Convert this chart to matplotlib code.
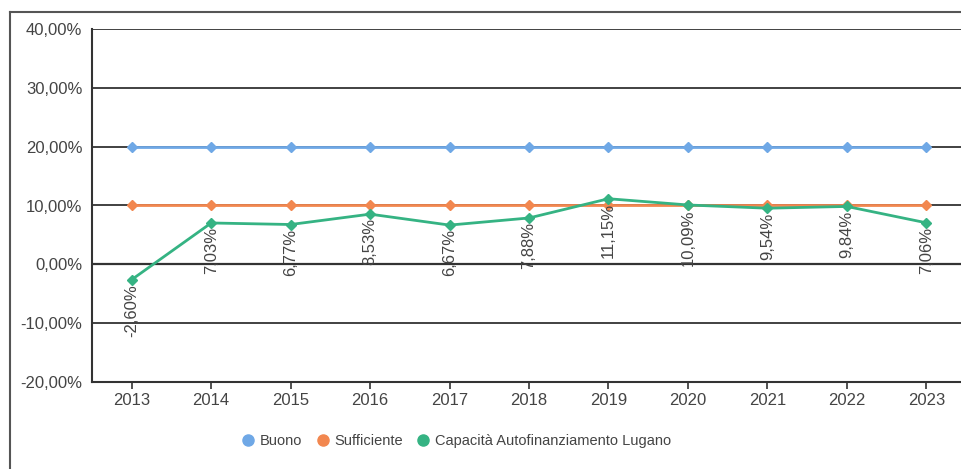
import matplotlib.pyplot as plt
from matplotlib.lines import Line2D

plt.rcParams['font.family'] = ['Liberation Sans', 'DejaVu Sans']

anni = ['2013', '2014', '2015', '2016', '2017', '2018', '2019', '2020', '2021', '2022', '2023']
buono = [20, 20, 20, 20, 20, 20, 20, 20, 20, 20, 20]
sufficiente = [10, 10, 10, 10, 10, 10, 10, 10, 10, 10, 10]
capacita = [-2.60, 7.03, 6.77, 8.53, 6.67, 7.88, 11.15, 10.09, 9.54, 9.84, 7.06]
y_ticks = [-20, -10, 0, 10, 20, 30, 40]

col_buono = '#6fa8e6'
col_suff = '#f2874f'
col_cap = '#35b383'
txt_col = '#444444'

fig = plt.figure(figsize=(9.62, 4.69), dpi=100)
W, H = 962, 469
ax = fig.add_axes([92 / W, 1 - 382 / H, (966 - 92) / W, (382 - 29) / H])

x = list(range(len(anni)))

for yv in y_ticks:
    ax.axhline(yv, color='#333333', lw=1.3 if yv != 0 else 1.6, zorder=1)

ax.plot(x, buono, color=col_buono, lw=2, marker='D', ms=5.5, zorder=3, clip_on=False)
ax.plot(x, sufficiente, color=col_suff, lw=2, marker='D', ms=5.5, zorder=3, clip_on=False)
ax.plot(x, capacita, color=col_cap, lw=2, marker='D', ms=5.5, zorder=4, clip_on=False)

for xi, v in zip(x, capacita):
    lab = f'{v:.2f}%'.replace('.', ',')
    ax.annotate(lab, (xi, v), xytext=(0, -3), textcoords='offset points',
                rotation=90, ha='center', va='top', fontsize=12, color=txt_col, zorder=5)

ax.set_xlim(-0.5, len(anni) - 0.5)
ax.set_ylim(-20, 40)
ax.set_xticks(x)
ax.set_xticklabels(anni)
ax.set_yticks(y_ticks)
ax.set_yticklabels([f'{v},00%' for v in y_ticks])
ax.tick_params(axis='x', length=5, width=1.2, color='#333333', labelsize=12, labelcolor=txt_col, pad=3)
ax.tick_params(axis='y', length=0, labelsize=12, labelcolor=txt_col, pad=7)

for s in ['top', 'right']:
    ax.spines[s].set_visible(False)
ax.spines['left'].set_color('#333333')
ax.spines['left'].set_linewidth(1.5)
ax.spines['bottom'].set_color('#333333')
ax.spines['bottom'].set_linewidth(1.5)

# cornice esterna dello screenshot
fig.add_artist(Line2D([10 / W, 10 / W], [0, 1 - 12 / H], transform=fig.transFigure, color='#555555', lw=1.5))
fig.add_artist(Line2D([10 / W, 1], [1 - 12 / H, 1 - 12 / H], transform=fig.transFigure, color='#555555', lw=1.5))

handles = [
    Line2D([], [], marker='o', ls='', color=col_buono, ms=8),
    Line2D([], [], marker='o', ls='', color=col_suff, ms=8),
    Line2D([], [], marker='o', ls='', color=col_cap, ms=8),
]
fig.legend(handles, ['Buono', 'Sufficiente', 'Capacità Autofinanziamento Lugano'],
           loc='center', bbox_to_anchor=(456 / W, 1 - 441 / H), ncol=3, frameon=False,
           fontsize=10.5, labelcolor=txt_col, handletextpad=0.3, columnspacing=0.9, handlelength=1)

fig.savefig('out.png', dpi=100)
